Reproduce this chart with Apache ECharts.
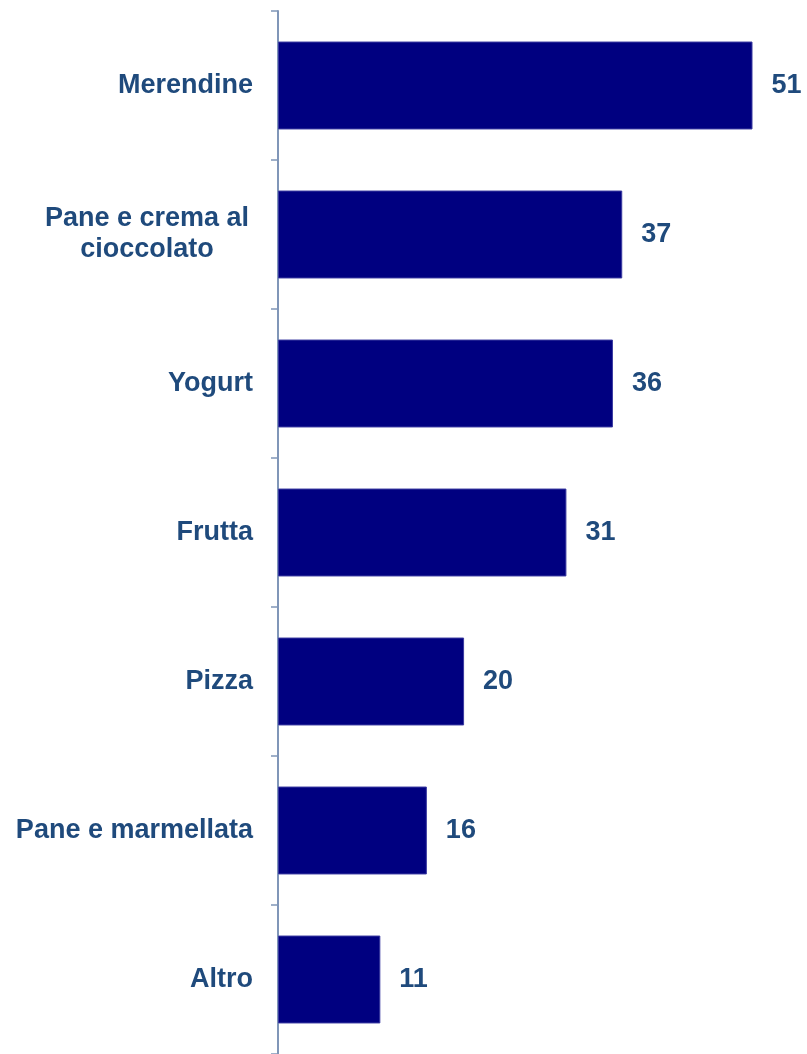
<!DOCTYPE html>
<html>
<head>
<meta charset="utf-8">
<script src="https://cdn.jsdelivr.net/npm/echarts@6/dist/echarts.min.js"></script>
<style>
html,body{margin:0;padding:0;background:#fff;}
#chart{width:807px;height:1054px;}
</style>
</head>
<body>
<div id="chart"></div>
<script>
const categories = ['Merendine', 'Pane e crema al\ncioccolato', 'Yogurt', 'Frutta', 'Pizza', 'Pane e marmellata', 'Altro'];
const values = [51, 37, 36, 31, 20, 16, 11];

const textColor = '#1F4A7C';
const chart = echarts.init(document.getElementById('chart'));
chart.setOption({
  animation: false,
  backgroundColor: '#ffffff',
  grid: { left: 278, top: 11, height: 1044, right: 54.5, containLabel: false },
  xAxis: {
    type: 'value', min: 0, max: 51, show: false,
    splitLine: { show: false }
  },
  yAxis: {
    type: 'category', data: categories, inverse: true, offset: 2,
    axisLine: { show: true, lineStyle: { color: '#8096B8', width: 2 } },
    axisTick: { show: true, length: 7, lineStyle: { color: '#8096B8', width: 1.5 } },
    axisLabel: {
      margin: 23, color: textColor, fontFamily: 'Liberation Sans, Arial, sans-serif',
      fontWeight: 'bold', fontSize: 27, lineHeight: 31, align: 'right',
      formatter: function (v) {
        if (v.indexOf('\n') >= 0) {
          return v.split('\n').map(function (s) { return '{c|' + s + '}'; }).join('\n');
        }
        return v;
      },
      rich: {
        c: { width: 212, align: 'center', color: textColor, fontWeight: 'bold', fontSize: 27, lineHeight: 31, fontFamily: 'Liberation Sans, Arial, sans-serif' }
      }
    }
  },
  series: [{
    type: 'bar', data: values, barCategoryGap: '41%',
    itemStyle: { color: '#000080', borderColor: '#3a3aa0', borderWidth: 1 },
    label: {
      show: true, position: 'right', distance: 19, color: textColor,
      fontFamily: 'Liberation Sans, Arial, sans-serif', fontWeight: 'bold', fontSize: 27
    }
  }]
});
</script>
</body>
</html>
